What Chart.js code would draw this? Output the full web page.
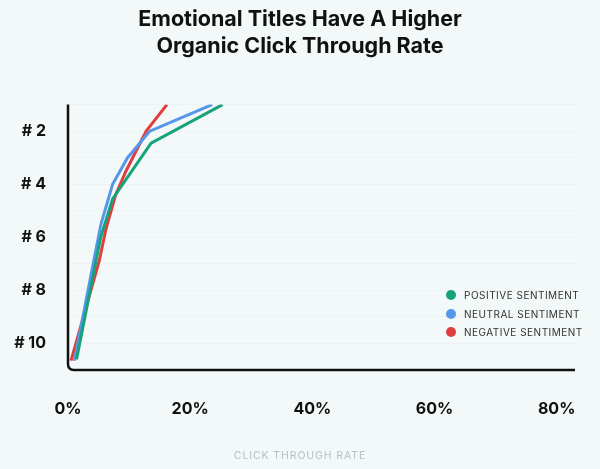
<!DOCTYPE html>
<html>
<head>
<meta charset="utf-8">
<script src="https://cdn.jsdelivr.net/npm/chart.js@4.4.1/dist/chart.umd.min.js"></script>
<style>
  html, body { margin: 0; padding: 0; background: #f2f9f8; }
  #wrap { position: relative; width: 600px; height: 469px; }
  #legend { position: absolute; left: 446px; top: 286px; font: 10px Inter, sans-serif; color: #333; letter-spacing: 0.5px; }
  #legend div { height: 18.5px; display: flex; align-items: center; white-space: nowrap; }
  #legend span { display: inline-block; width: 10px; height: 10px; border-radius: 50%; margin-right: 8px; }
</style>
</head>
<body>
<div id="wrap">
  <canvas id="chart" width="600" height="469"></canvas>
  <div id="legend"></div>
</div>
<script>
// rank (y) against click through rate in % (x)
const positiveCtr = [25.3, 13.6, 7.3, 5.35, 1.4]
const positiveRank = [1, 2.45, 4.55, 6.0, 10.6]
const neutralCtr = [23.6, 13.4, 9.75, 7.3, 5.4, 4.2, 1.05]
const neutralRank = [1, 2, 3, 4, 5.5, 6.9, 10.65]
const negativeCtr = [16.2, 12.8, 9.5, 7.8, 6.2, 5.1, 0.5]
const negativeRank = [1, 2, 3.5, 4.4, 5.7, 6.9, 10.65]

const seriesLabels = ['POSITIVE SENTIMENT', 'NEUTRAL SENTIMENT', 'NEGATIVE SENTIMENT']
const seriesColors = ['#17a27a', '#5597ea', '#e03e3e']
const xTicks = [0, 20, 40, 60, 80]
const yTicks = [1, 2, 3, 4, 5, 6, 7, 8, 9, 10, 11]
const yLabelled = [2, 4, 6, 8, 10]
const xTitle = 'CLICK THROUGH RATE'

const toPoints = (xs, ys) => xs.map((x, i) => ({ x: x, y: ys[i] }))

// black L-shaped frame with a rounded corner, plus the spaced-out x axis title
const framePlugin = {
  id: 'frame',
  afterDatasetsDraw(chart) {
    const { ctx, chartArea: a } = chart
    const r = 6
    ctx.save()
    ctx.strokeStyle = '#111'
    ctx.lineWidth = 2.5
    ctx.beginPath()
    ctx.moveTo(a.left, a.top)
    ctx.lineTo(a.left, a.bottom - r)
    ctx.quadraticCurveTo(a.left, a.bottom, a.left + r, a.bottom)
    ctx.lineTo(a.right, a.bottom)
    ctx.stroke()

    ctx.font = '10.5px Inter'
    ctx.letterSpacing = '0.9px'
    ctx.fillStyle = '#b9c0c1'
    ctx.textAlign = 'center'
    ctx.textBaseline = 'middle'
    ctx.fillText(xTitle, chart.width / 2, chart.height - 13)
    ctx.restore()
  }
}

const chart = new Chart(document.getElementById('chart'), {
  type: 'line',
  data: {
    datasets: [
      { label: seriesLabels[0], data: toPoints(positiveCtr, positiveRank) },
      { label: seriesLabels[1], data: toPoints(neutralCtr, neutralRank) },
      { label: seriesLabels[2], data: toPoints(negativeCtr, negativeRank) }
    ].map((d, i) => ({
      ...d,
      borderColor: seriesColors[i],
      backgroundColor: seriesColors[i],
      borderWidth: 3,
      pointRadius: 0,
      tension: 0,
      fill: false
    }))
  },
  options: {
    responsive: false,
    animation: false,
    layout: { padding: 0 },
    plugins: {
      legend: { display: false },
      tooltip: { enabled: false },
      title: {
        display: true,
        text: ['Emotional Titles Have A Higher', 'Organic Click Through Rate'],
        color: '#111',
        font: { family: 'Inter', size: 21.5, weight: 'bold', lineHeight: 1.27 },
        padding: { top: 6, bottom: 44 }
      }
    },
    scales: {
      x: {
        type: 'linear',
        min: 0,
        max: 83,
        afterBuildTicks: s => { s.ticks = xTicks.map(v => ({ value: v })) },
        afterFit: s => { s.height = 99 },
        grid: { display: false },
        border: { display: false },
        ticks: {
          padding: 22,
          color: '#111',
          font: { family: 'Inter', size: 16, weight: 'bold' },
          callback: v => v + '%'
        }
      },
      y: {
        type: 'linear',
        reverse: true,
        min: 1,
        max: 11,
        afterBuildTicks: s => { s.ticks = yTicks.map(v => ({ value: v })) },
        afterFit: s => { s.width = 68 },
        grid: { color: 'rgba(0,0,0,0.025)', drawTicks: false },
        border: { display: false },
        ticks: {
          padding: 22,
          color: '#111',
          font: { family: 'Inter', size: 16, weight: 'bold' },
          callback: v => yLabelled.includes(v) ? '# ' + v : ''
        }
      },
      // empty right-hand axis, only keeps a margin so the title stays centred
      spacer: {
        type: 'linear',
        position: 'right',
        afterFit: s => { s.width = 25 },
        grid: { display: false },
        border: { display: false },
        ticks: { display: false }
      }
    }
  },
  plugins: [framePlugin]
})

// legend drawn inside the plot, from the datasets
const legend = document.getElementById('legend')
chart.data.datasets.forEach(ds => {
  const row = document.createElement('div')
  const dot = document.createElement('span')
  dot.style.background = ds.borderColor
  row.appendChild(dot)
  row.appendChild(document.createTextNode(ds.label))
  legend.appendChild(row)
})
</script>
</body>
</html>
